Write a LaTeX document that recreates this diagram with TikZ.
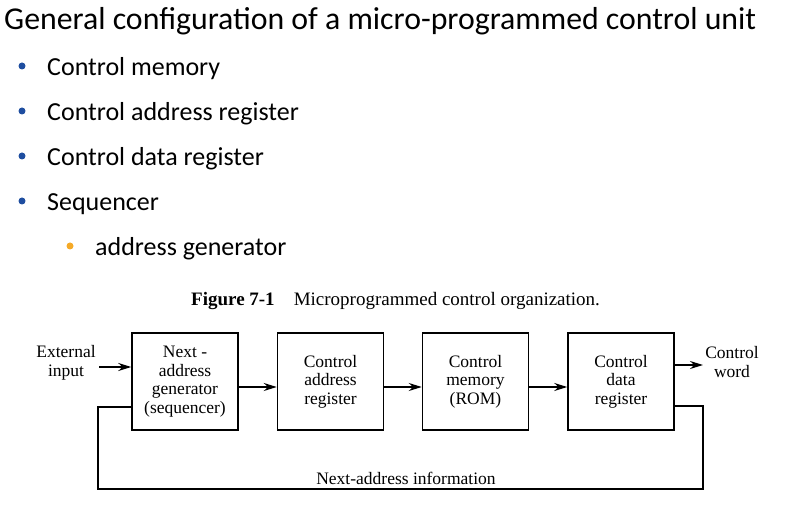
\documentclass[tikz,border=0pt]{standalone}
\usepackage{fontspec}
\setmainfont{Liberation Serif}
\newfontfamily\slidefont{Carlito}
\usetikzlibrary{arrows.meta}
\definecolor{bulletblue}{RGB}{31,78,160}
\definecolor{bulletorange}{RGB}{245,170,40}
\begin{document}
\begin{tikzpicture}[x=1pt,y=-1pt,
  block/.style={draw,line width=1.5pt,minimum width=106pt,minimum height=97pt,
    align=center,font=\fontsize{17.5}{18.5}\selectfont,inner sep=0pt},
  lbl/.style={align=center,font=\fontsize{17.5}{18.5}\selectfont,inner sep=0pt},
  flow/.style={line width=1.5pt,-{Stealth[length=13pt,width=8pt]}},
  wire/.style={line width=1.5pt},
  slide/.style={anchor=base west,inner sep=0pt,font=\slidefont\fontsize{26}{30}\selectfont},
  dot/.style={circle,fill=#1,inner sep=0pt,minimum size=7pt}]
\useasboundingbox (0,0) rectangle (790,529);

% slide heading and bullet list
\node[slide,font=\slidefont\fontsize{31.8}{36}\selectfont] (title) at (4,30) {General configuration of a micro-programmed control unit};
\node[dot=bulletblue] (d1) at (22,66) {};
\node[slide] (t1) at (47,76) {Control memory};
\node[dot=bulletblue] (d2) at (22,111) {};
\node[slide] (t2) at (47,121) {Control address register};
\node[dot=bulletblue] (d3) at (22,156) {};
\node[slide] (t3) at (47,166) {Control data register};
\node[dot=bulletblue] (d4) at (22,201) {};
\node[slide] (t4) at (47,211) {Sequencer};
\node[dot=bulletorange] (d5) at (70,246) {};
\node[slide] (t5) at (95,256) {address generator};

% figure caption
\node[anchor=base west,inner sep=0pt,font=\fontsize{19}{20}\selectfont] (cap) at (191,306)
  {\textbf{Figure 7-1}\quad Microprogrammed control organization.};

% blocks
\node[block] (seq) at (185,381.5) {Next -\\address\\generator\\(sequencer)};
\node[block] (car) at (330.5,381.5) {Control\\address\\register};
\node[block] (cm)  at (475.5,381.5) {Control\\memory\\(ROM)};
\node[block] (cdr) at (621,381.5) {Control\\data\\register};

% external labels
\node[lbl] (ext) at (66,363) {External\\input};
\node[lbl] (cw)  at (732,362) {Control\\word};
\node[lbl,anchor=base] (nai) at (406,484) {Next-address information};

% connectors
\coordinate (extend) at (99,367);
\draw[flow] (extend) -- (seq.west |- extend);
\draw[flow] (seq.east |- 0,387) -- (car.west |- 0,387);
\draw[flow] (car.east |- 0,387) -- (cm.west |- 0,387);
\draw[flow] (cm.east |- 0,387) -- (cdr.west |- 0,387);
\coordinate (cwend) at (703,365);
\draw[flow] (cdr.east |- cwend) -- (cwend);

% feedback loop of next-address information
\coordinate (fbR) at (703,406);
\coordinate (fbL) at (98,407);
\draw[wire] (cdr.east |- fbR) -- (fbR) -- (703,489) -- (98,489) -- (fbL) -- (seq.west |- fbL);
\end{tikzpicture}
\end{document}
